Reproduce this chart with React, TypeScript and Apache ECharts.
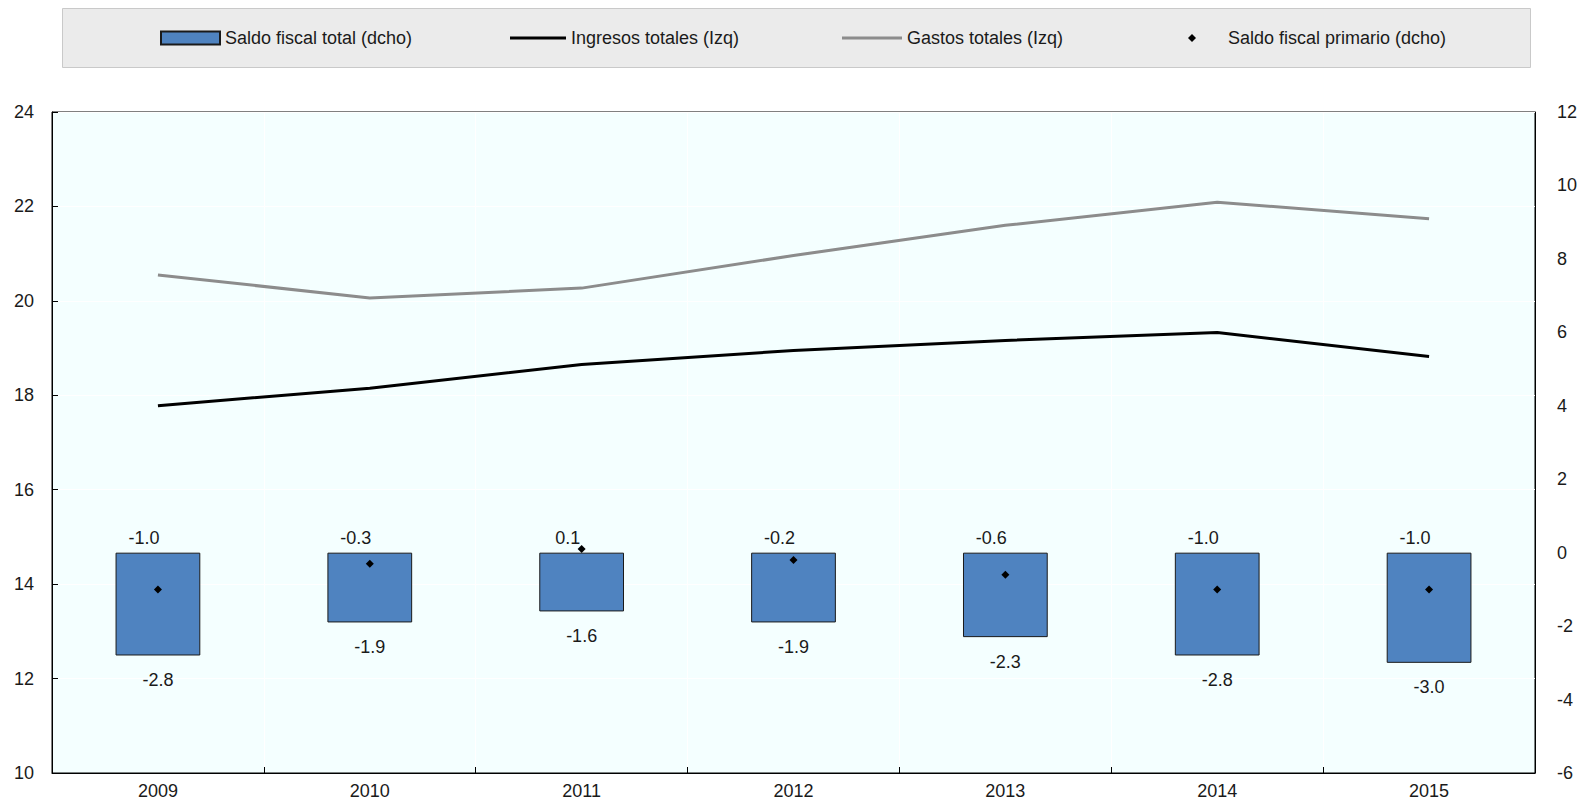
import React, { useEffect, useRef } from "react";
import * as echarts from "echarts";

const years = ["2009", "2010", "2011", "2012", "2013", "2014", "2015"];
const saldoTotal = [-2.8, -1.9, -1.6, -1.9, -2.3, -2.8, -3.0];
const saldoPrimario = [-1.0, -0.3, 0.1, -0.2, -0.6, -1.0, -1.0];
const ingresos = [17.78, 18.15, 18.65, 18.95, 19.16, 19.33, 18.82];
const gastos = [20.55, 20.06, 20.27, 20.96, 21.6, 22.09, 21.74];

const NAME_BAR = "Saldo fiscal total (dcho)";
const NAME_ING = "Ingresos totales (Izq)";
const NAME_GAS = "Gastos totales (Izq)";
const NAME_PRI = "Saldo fiscal primario (dcho)";

const FONT = "'Liberation Sans', Arial, sans-serif";
const TXT = "#1a1a1a";

export default function App() {
  const ref = useRef<HTMLDivElement>(null);
  useEffect(() => {
    document.body.style.margin = "0";
    const chart = echarts.init(ref.current!, null, { renderer: "svg" });
    const legendText = { fontSize: 18, color: TXT, fontFamily: FONT };
    chart.setOption({
      animation: false,
      textStyle: { fontFamily: FONT },
      graphic: [
        {
          type: "rect",
          z: 0,
          shape: { x: 62.5, y: 8.5, width: 1468, height: 59 },
          style: { fill: "#EBEBEB", stroke: "#C9C9C9", lineWidth: 1 },
        },
      ],
      legend: [
        { data: [{ name: NAME_BAR, icon: "rect" }], left: 155, top: 24, itemWidth: 59, itemHeight: 13, selectedMode: false, textStyle: legendText },
        { data: [{ name: NAME_ING, icon: "rect" }], left: 505, top: 24, itemWidth: 56, itemHeight: 3, selectedMode: false, textStyle: legendText },
        { data: [{ name: NAME_GAS, icon: "rect" }], left: 837, top: 24, itemWidth: 60, itemHeight: 3, selectedMode: false, textStyle: legendText },
        {
          data: [{ name: NAME_PRI, icon: "diamond" }],
          left: 1183,
          top: 24,
          itemWidth: 8,
          itemHeight: 8,
          selectedMode: false,
          textStyle: { ...legendText, padding: [0, 0, 0, 27] },
        },
      ],
      grid: {
        left: 52,
        right: 52,
        top: 112,
        bottom: 30,
        show: true,
        backgroundColor: "#F4FFFF",
        borderColor: "#000",
        borderWidth: 1,
        containLabel: false,
      },
      xAxis: {
        type: "category",
        data: years,
        boundaryGap: true,
        axisLine: { show: true, onZero: false, lineStyle: { color: "#000", width: 1 } },
        axisTick: { show: true, inside: true, length: 6, lineStyle: { color: "#000" } },
        axisLabel: { fontSize: 18, color: TXT, margin: 9, fontFamily: FONT },
        splitLine: { show: true, lineStyle: { color: "#FFFFFF", width: 1 } },
      },
      yAxis: [
        {
          type: "value",
          position: "left",
          min: 10,
          max: 24,
          interval: 2,
          axisLine: { show: true, lineStyle: { color: "#000", width: 1 } },
          axisTick: { show: true, inside: true, length: 6, lineStyle: { color: "#000" } },
          axisLabel: { fontSize: 18, color: TXT, margin: 18, fontFamily: FONT },
          splitLine: { show: true, lineStyle: { color: "#FFFFFF", width: 1 } },
        },
        {
          type: "value",
          position: "right",
          min: -6,
          max: 12,
          interval: 2,
          axisLine: { show: true, lineStyle: { color: "#000", width: 1 } },
          axisTick: { show: false },
          axisLabel: { fontSize: 18, color: TXT, margin: 22, fontFamily: FONT },
          splitLine: { show: false },
        },
      ],
      series: [
        {
          name: NAME_BAR,
          type: "bar",
          yAxisIndex: 1,
          data: saldoTotal,
          barWidth: "40%",
          itemStyle: { color: "#4F83C0", borderColor: "#1a1a1a", borderWidth: 1 },
          label: {
            show: true,
            position: "top",
            distance: 6,
            offset: [-14, 0],
            fontSize: 18,
            color: TXT,
            fontFamily: FONT,
            formatter: (p: any) => saldoPrimario[p.dataIndex].toFixed(1),
          },
          z: 2,
        },
        {
          name: NAME_ING,
          type: "line",
          yAxisIndex: 0,
          data: ingresos,
          symbol: "none",
          itemStyle: { color: "#000" },
          lineStyle: { color: "#000", width: 3 },
          z: 3,
        },
        {
          name: NAME_GAS,
          type: "line",
          yAxisIndex: 0,
          data: gastos,
          symbol: "none",
          itemStyle: { color: "#8C8C8C" },
          lineStyle: { color: "#8C8C8C", width: 3 },
          z: 3,
        },
        {
          name: NAME_PRI,
          type: "scatter",
          yAxisIndex: 1,
          data: saldoPrimario,
          symbol: "diamond",
          symbolSize: 8,
          itemStyle: { color: "#000", opacity: 1 },
          z: 4,
        },
        {
          name: "labels-total",
          type: "scatter",
          yAxisIndex: 1,
          data: saldoTotal,
          symbol: "circle",
          symbolSize: 1,
          itemStyle: { color: "transparent", opacity: 1 },
          silent: true,
          label: {
            show: true,
            position: "bottom",
            distance: 15,
            fontSize: 18,
            color: TXT,
            fontFamily: FONT,
            formatter: (p: any) => Number(p.value).toFixed(1),
          },
          z: 4,
        },
      ],
    });
    return () => chart.dispose();
  }, []);
  return (
    <div
      ref={ref}
      style={{ position: "absolute", left: 0, top: 0, width: 1587, height: 803 }}
    />
  );
}
